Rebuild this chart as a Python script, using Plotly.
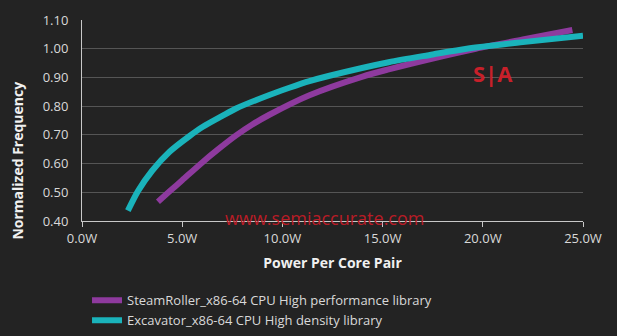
import plotly.graph_objects as go

# Data
steam_x = [3.79, 4.4, 5.0, 5.9, 6.8, 7.69, 8.5, 9.35, 11.35, 14.0, 15.3, 17.5, 19.65, 22.0, 24.47]
steam_y = [0.467, 0.505, 0.542, 0.598, 0.650, 0.698, 0.736, 0.770, 0.838, 0.903, 0.928, 0.966, 1.000, 1.032, 1.065]
exc_x = [2.29, 2.8, 3.5, 4.37, 5.37, 6.03, 7.0, 7.69, 9.35, 10.35, 11.35, 12.3, 15.3, 17.5, 19.2, 22.0, 25.0]
exc_y = [0.436, 0.505, 0.575, 0.641, 0.696, 0.728, 0.766, 0.792, 0.839, 0.864, 0.887, 0.905, 0.953, 0.980, 1.000, 1.023, 1.045]

steam_name = "SteamRoller_x86-64 CPU High performance library"
exc_name = "Excavator_x86-64 CPU High density library"

x_ticks = [0, 5, 10, 15, 20, 25]
x_labels = ["0.0W", "5.0W", "10.0W", "15.0W", "20.0W", "25.0W"]
y_ticks = [0.4, 0.5, 0.6, 0.7, 0.8, 0.9, 1.0, 1.1]
y_labels = ["0.40", "0.50", "0.60", "0.70", "0.80", "0.90", "1.00", "1.10"]

BG = "#232323"
FONT = "Open Sans"
TXT = "#d9d9d9"

fig = go.Figure()
fig.add_trace(go.Scatter(x=steam_x, y=steam_y, mode="lines", name=steam_name,
                         line=dict(color="#8e3a9e", width=6, shape="spline", smoothing=0.8)))
fig.add_trace(go.Scatter(x=exc_x, y=exc_y, mode="lines", name=exc_name,
                         line=dict(color="#1ab3bb", width=6, shape="spline", smoothing=0.8)))

fig.add_annotation(text="S|A", x=20.5, y=0.915, xref="x", yref="y", showarrow=False,
                   font=dict(family=FONT, size=22, color="#c8202a", weight="bold"))
fig.add_annotation(text="www.semiaccurate.com", x=12.1, y=0.40, xref="x", yref="y", showarrow=False,
                   yshift=3, font=dict(family=FONT, size=18, color="#b81c26"))
fig.add_annotation(text="<b>Normalized Frequency</b>", textangle=-90, x=-0.128, y=0.30,
                   xref="paper", yref="paper", xanchor="center", yanchor="middle", showarrow=False,
                   font=dict(family=FONT, size=14, color="#f0f0f0"))

fig.update_layout(
    width=617, height=336,
    margin=dict(l=82, r=34, t=20, b=115, autoexpand=False),
    paper_bgcolor=BG, plot_bgcolor=BG,
    font=dict(family=FONT, size=13, color=TXT),
    showlegend=True,
    legend=dict(x=0.01, y=-0.32, xanchor="left", yanchor="top", orientation="v",
                bgcolor="rgba(0,0,0,0)", font=dict(size=13, color=TXT),
                tracegroupgap=0),
    xaxis=dict(range=[0, 25], tickvals=x_ticks, ticktext=x_labels, automargin=False,
               showgrid=False, zeroline=False, showline=True, linecolor="#c8c8c8", linewidth=1,
               ticks="outside", ticklen=5, tickcolor="#c8c8c8",
               title=dict(text="<b>Power Per Core Pair</b>", font=dict(size=14, color="#f0f0f0"), standoff=12)),
    yaxis=dict(range=[0.4, 1.1], tickvals=y_ticks, ticktext=y_labels, automargin=False,
               showgrid=True, gridcolor="#555555", gridwidth=1, zeroline=False,
               showline=True, linecolor="#c8c8c8", linewidth=1,
               ticks="", ticklabelstandoff=10),
)

fig.write_html("out.html")
